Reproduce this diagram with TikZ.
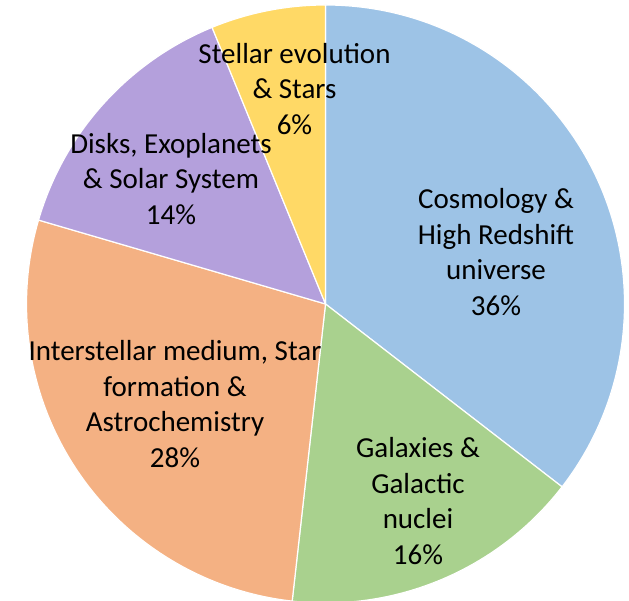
\documentclass[tikz,border=0pt]{standalone}
\usepackage{fontspec}
\setmainfont{Carlito}
\definecolor{cblue}{HTML}{9DC3E6}
\definecolor{cgreen}{HTML}{A9D18E}
\definecolor{corange}{HTML}{F4B183}
\definecolor{cpurple}{HTML}{B4A0DC}
\definecolor{cyellow}{HTML}{FFD966}
\begin{document}
\begin{tikzpicture}[x=1pt,y=1pt,
  wedge/.style={draw=white,line width=1.2pt,line join=round},
  lbl/.style={align=center,inner sep=0pt,font=\fontsize{29}{35.5}\selectfont,text=black}]
\useasboundingbox (0,0) rectangle (629,601);
\clip (0,0) rectangle (629,601);
\coordinate (c) at (325.5,297);
\def\R{299}
\fill[cblue,wedge] (c) -- ++(90:\R) arc (90:-37.7:\R) -- cycle;
\fill[cgreen,wedge] (c) -- ++(-37.7:\R) arc (-37.7:-96.4:\R) -- cycle;
\fill[corange,wedge] (c) -- ++(-96.4:\R) arc (-96.4:-196.3:\R) -- cycle;
\fill[cpurple,wedge] (c) -- ++(163.7:\R) arc (163.7:112.3:\R) -- cycle;
\fill[cyellow,wedge] (c) -- ++(112.3:\R) arc (112.3:90:\R) -- cycle;
\node[lbl] (stellar) at (294.5,601-89) {Stellar evolution\\\& Stars\\6\%};
\node[lbl] (disks) at (171,601-179) {Disks, Exoplanets\\\& Solar System\\14\%};
\node[lbl] (cosmo) at (496,601-252) {Cosmology \&\\High Redshift\\universe\\36\%};
\node[lbl] (ism) at (175,601-404) {Interstellar medium, Star\\formation \&\\Astrochemistry\\28\%};
\node[lbl] (gal) at (418,601-501) {Galaxies \&\\Galactic\\nuclei\\16\%};
\end{tikzpicture}
\end{document}
